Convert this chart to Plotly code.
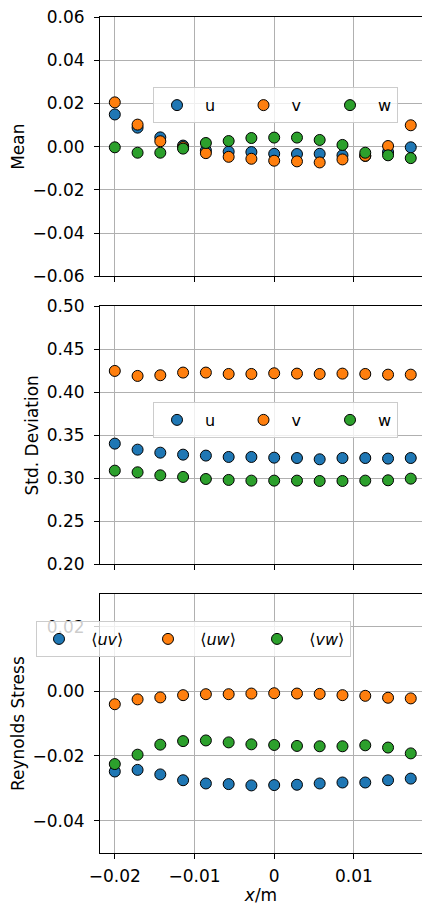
import plotly.graph_objects as go

x_pos = [-0.02, -0.01714, -0.01429, -0.01143, -0.00857, -0.00571, -0.00286,
         0.0, 0.00286, 0.00571, 0.00857, 0.01143, 0.01429, 0.01714]

mean_u = [0.0149, 0.0088, 0.0043, 0.0005, -0.0017, -0.0023, -0.0025,
          -0.0033, -0.0034, -0.0033, -0.0040, -0.0043, -0.0025, -0.0003]
mean_v = [0.0205, 0.0102, 0.0025, -0.0002, -0.0030, -0.0047, -0.0056,
          -0.0065, -0.0068, -0.0073, -0.0059, -0.0042, 0.0003, 0.0099]
mean_w = [-0.0003, -0.0028, -0.0028, -0.0009, 0.0017, 0.0026, 0.0040,
          0.0042, 0.0042, 0.0031, 0.0008, -0.0028, -0.0040, -0.0053]

std_u = [0.3403, 0.3333, 0.3298, 0.3275, 0.3264, 0.3248, 0.3248,
         0.3240, 0.3236, 0.3221, 0.3236, 0.3236, 0.3229, 0.3236]
std_v = [0.4248, 0.4190, 0.4198, 0.4229, 0.4229, 0.4213, 0.4213,
         0.4221, 0.4217, 0.4213, 0.4217, 0.4213, 0.4205, 0.4205]
std_w = [0.3089, 0.3070, 0.3035, 0.3016, 0.2992, 0.2981, 0.2973,
         0.2973, 0.2973, 0.2969, 0.2969, 0.2973, 0.2977, 0.2996]

rs_uv = [-0.0248, -0.0243, -0.0257, -0.0275, -0.0285, -0.0287, -0.0291,
         -0.0290, -0.0289, -0.0285, -0.0282, -0.0282, -0.0275, -0.0270]
rs_uw = [-0.0040, -0.0025, -0.0019, -0.0012, -0.0009, -0.0009, -0.0007,
         -0.0006, -0.0007, -0.0008, -0.0012, -0.0014, -0.0020, -0.0022]
rs_vw = [-0.0225, -0.0196, -0.0165, -0.0154, -0.0152, -0.0158, -0.0164,
         -0.0166, -0.0169, -0.0170, -0.0170, -0.0167, -0.0174, -0.0192]

names_uvw = ["u", "v", "w"]
names_rs = ["⟨<i>uv</i>⟩", "⟨<i>uw</i>⟩", "⟨<i>vw</i>⟩"]
colors = ["#1f77b4", "#ff7f0e", "#2ca02c"]

FONT = "DejaVu Sans"
FS = 17
LFS = 16

fig = go.Figure()

def add(series, names, xa, ya, leg, lw, pad):
    for i, (s, n, c) in enumerate(zip(series, names, colors)):
        kw = {}
        if i < 2:
            kw["legendwidth"] = lw
        fig.add_trace(go.Scatter(
            x=x_pos, y=s, mode="markers", name=pad + n, xaxis=xa, yaxis=ya,
            legend=leg,
            marker=dict(size=11, color=c, line=dict(color="black", width=1)),
            **kw,
        ))

add([mean_u, mean_v, mean_w], names_uvw, "x3", "y3", "legend", 35.5, "\u00a0")
add([std_u, std_v, std_w], names_uvw, "x2", "y2", "legend2", 35.5, "\u00a0")
add([rs_uv, rs_uw, rs_vw], names_rs, "x", "y", "legend3", 60, "\u00a0\u00a0")

xrange_ = [-0.021857, 0.01855]
common_x = dict(range=xrange_, showgrid=True, gridcolor="#b0b0b0", gridwidth=1.1,
                zeroline=False, showline=True, linecolor="black", linewidth=1.1,
                mirror=True, ticks="outside", ticklen=5, tickwidth=1.1,
                tickcolor="black", tickvals=[-0.02, -0.01, 0.0, 0.01],
                ticklabelstandoff=3, tickangle=0,
                tickfont=dict(family=FONT, size=FS, color="black"))
common_y = dict(showgrid=True, gridcolor="#b0b0b0", gridwidth=1.1,
                zeroline=False, showline=True, linecolor="black", linewidth=1.1,
                ticks="outside", ticklen=5, tickwidth=1.1, tickcolor="black",
                ticklabelstandoff=6,
                tickfont=dict(family=FONT, size=FS, color="black"),
                title_font=dict(family=FONT, size=FS, color="black"),
                title_standoff=3)

d_top = [0.6898, 1.0]
d_mid = [0.3453, 0.6540]
d_bot = [0.0, 0.3095]

leg_common = dict(orientation="h", yanchor="top",
                  bgcolor="rgba(255,255,255,0.8)", bordercolor="#cccccc",
                  borderwidth=1, font=dict(family=FONT, size=LFS, color="black"))

fig.update_layout(
    width=422, height=905,
    margin=dict(l=100, r=0, t=17, b=52, autoexpand=False),
    plot_bgcolor="white", paper_bgcolor="white",
    font=dict(family=FONT, size=FS, color="black"),
    xaxis=dict(common_x, anchor="y", domain=[0, 1],
               title=dict(text="<i>x</i>/m", font=dict(family=FONT, size=FS),
                          standoff=2)),
    yaxis=dict(common_y, anchor="x", domain=d_bot, range=[-0.05, 0.03],
               tickvals=[-0.04, -0.02, 0.0, 0.02], tickformat=".2f",
               title_text="Reynolds Stress"),
    xaxis2=dict(common_x, anchor="y2", domain=[0, 1], matches="x",
                showticklabels=False),
    yaxis2=dict(common_y, anchor="x2", domain=d_mid, range=[0.2, 0.5],
                tickvals=[0.2, 0.25, 0.3, 0.35, 0.4, 0.45, 0.5],
                tickformat=".2f", title_text="Std. Deviation"),
    xaxis3=dict(common_x, anchor="y3", domain=[0, 1], matches="x",
                showticklabels=False),
    yaxis3=dict(common_y, anchor="x3", domain=d_top, range=[-0.06, 0.06],
                tickvals=[-0.06, -0.04, -0.02, 0.0, 0.02, 0.04, 0.06],
                tickformat=".2f", title_text="Mean"),
    legend=dict(leg_common, x=0.1646, xanchor="left", y=0.9160, itemwidth=36),
    legend2=dict(leg_common, x=0.1646, xanchor="left", y=0.5395, itemwidth=36),
    legend3=dict(leg_common, x=(193.5 - 100) / 322, xanchor="center",
                 y=0.2775, itemwidth=34),
)

fig.write_html("out.html")
